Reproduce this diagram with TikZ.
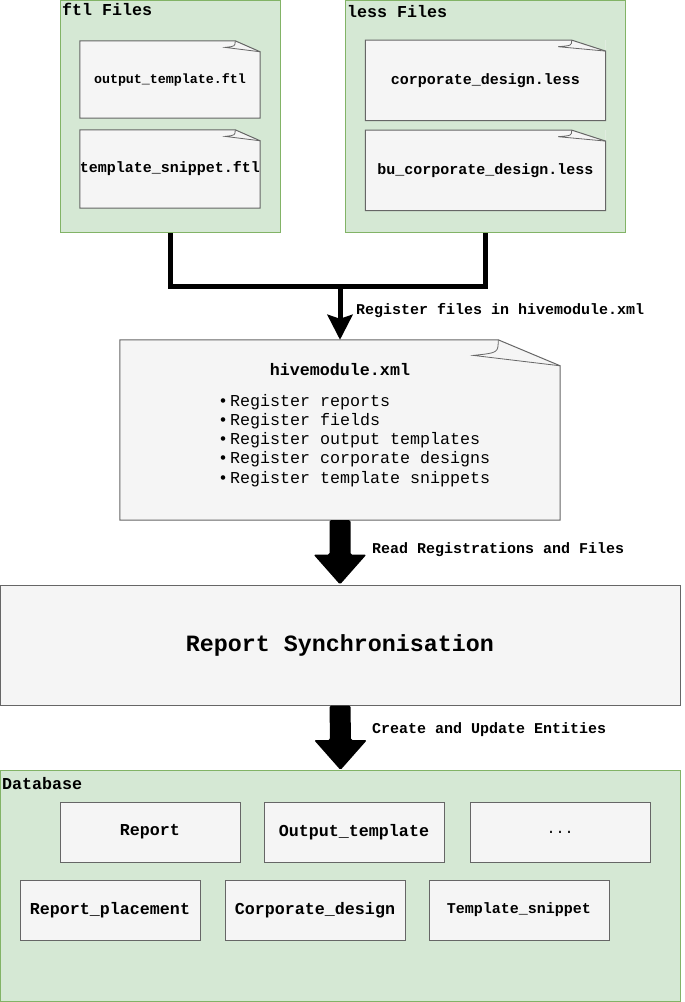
\documentclass[tikz,border=0pt]{standalone}
\usepackage{fontspec}
\setmonofont{Liberation Mono}
\usetikzlibrary{calc,positioning,arrows.meta}
\definecolor{boxfill}{HTML}{F5F5F5}
\definecolor{boxline}{HTML}{666666}
\definecolor{groupfill}{HTML}{D5E8D4}
\definecolor{groupline}{HTML}{82B366}
\tikzset{
  group/.style={draw=groupline, fill=groupfill, line width=1pt, inner sep=0pt, anchor=north west},
  entity/.style={draw=boxline, fill=boxfill, line width=1pt, inner sep=0pt, minimum width=180pt, minimum height=60pt},
  filenote/.style={fill=boxfill, inner sep=0pt},
  boldsmall/.style={font=\ttfamily\bfseries\fontsize{13.33}{16}\selectfont},
  boldmid/.style={font=\ttfamily\bfseries\fontsize{15}{18}\selectfont},
  boldbig/.style={font=\ttfamily\bfseries\fontsize{16.67}{20}\selectfont},
  boldhuge/.style={font=\ttfamily\bfseries\fontsize{23.33}{28}\selectfont},
  plainmid/.style={font=\ttfamily\fontsize{15}{18}\selectfont},
  plainbig/.style={font=\ttfamily\fontsize{16.67}{19.25}\selectfont},
  flowline/.style={line width=5pt},
}
% folded corner of a file note: name, fold width, fold height, colour behind
\def\notefold#1#2#3#4{%
  \fill[#4] ($(#1.north east)+(-#2,0)$) -- (#1.north east) -- ($(#1.north east)+(0,#3)$) -- cycle;
  \draw[boxline, line width=1pt] (#1.south west) -- (#1.north west) -- ($(#1.north east)+(-#2,0)$) -- ($(#1.north east)+(0,#3)$) -- (#1.south east) -- cycle;
  \draw[boxline, line width=0.8pt] ($(#1.north east)+(-#2,0)$) .. controls ($(#1.north east)+(-#2,0.5*#3)$) .. ($(#1.north east)+(-1.4*#2,0.6*#3)$) -- ($(#1.north east)+(0,#3)$);
}
% wide block arrow between two nodes
\def\blockarrow#1#2{%
  \fill[rounded corners=1.5pt] ($(#1.south)+(-10.5,0)$) -- ($(#2.north)+(-10.5,-30)$) -- ($(#2.north)+(-26.5,-30)$) -- (#2.north) -- ($(#2.north)+(26.5,-30)$) -- ($(#2.north)+(10.5,-30)$) -- ($(#1.south)+(10.5,0)$) -- cycle;
}

\begin{document}
\begin{tikzpicture}[x=1pt, y=-1pt]
  \useasboundingbox (0,0) rectangle (685,1002);
  %%%%% FILES %%%%%
  \node[group, minimum width=220pt, minimum height=232pt] (ftl) at (60,0) {};
  \node[boldbig, anchor=base west, inner sep=0pt] (ftltitle) at (62,15) {ftl Files};
  \node[group, minimum width=280pt, minimum height=232pt] (less) at (345,0) {};
  \node[boldbig, anchor=base west, inner sep=0pt] (lesstitle) at (347,17) {less Files};

  \node[filenote, boldsmall, minimum width=180pt, minimum height=77pt] (outtpl) at (170,79.5) {output\_template.ftl};
  \notefold{outtpl}{25}{11}{groupfill}
  \node[filenote, boldmid, minimum width=180pt, minimum height=78pt] (snippet) at (170,169) {template\_snippet.ftl};
  \notefold{snippet}{25}{11}{groupfill}
  \node[filenote, boldmid, minimum width=240pt, minimum height=80pt] (corp) at (485.5,80.3) {corporate\_design.less};
  \notefold{corp}{34}{11}{groupfill}
  \node[filenote, boldmid, minimum width=240pt, minimum height=80pt] (bucorp) at (485.5,170.3) {bu\_corporate\_design.less};
  \notefold{bucorp}{34}{11}{groupfill}

  %%%%% HIVEMODULE %%%%%
  \node[filenote, minimum width=440pt, minimum height=180pt] (hive) at (340,430) {};
  \notefold{hive}{62}{26}{white}
  \node[boldbig] (hivetitle) at (340,370) {hivemodule.xml};
  \foreach \what [count=\i] in {reports, fields, output templates, corporate designs, template snippets}
    \node[plainbig, anchor=base west, inner sep=0pt] (item\i) at (218,{406+19.25*(\i-1)}) {\makebox[12pt][l]{\textbullet}Register \what};

  \coordinate (joint) at (340,286);
  \draw[flowline] (ftl.south) |- (joint) -| (less.south);
  \draw[flowline, -{Stealth[length=25pt, width=25pt, inset=4pt]}] (joint) -- (hive.north);
  \node[boldmid, anchor=base west, inner sep=0pt] (reglbl) at (356,314) {Register files in hivemodule.xml};

  %%%%% SYNC %%%%%
  \node[entity, boldhuge, minimum width=680pt, minimum height=120pt] (sync) at (340,645) {Report Synchronisation};
  \blockarrow{hive}{sync}
  \node[boldmid, anchor=base west, inner sep=0pt] (readlbl) at (372,553) {Read Registrations and Files};

  %%%%% DATABASE %%%%%
  \node[group, minimum width=680pt, minimum height=231pt] (db) at (0,770) {};
  \node[boldbig, anchor=base west, inner sep=0pt] (dbtitle) at (2,789) {Database};
  \blockarrow{sync}{db}
  \node[boldmid, anchor=base west, inner sep=0pt] (createlbl) at (372,733) {Create and Update Entities};

  \node[entity, boldbig] (report) at (150,832) {Report};
  \node[entity, boldbig, right=23pt of report] (outtplent) {Output\_template};
  \node[entity, plainmid, right=25pt of outtplent] (more) {...};
  \node[entity, boldbig] (placement) at (110,910) {Report\_placement};
  \node[entity, boldbig, right=24pt of placement] (design) {Corporate\_design};
  \node[entity, boldmid, right=23pt of design] (snippetent) {Template\_snippet};
\end{tikzpicture}
\end{document}
